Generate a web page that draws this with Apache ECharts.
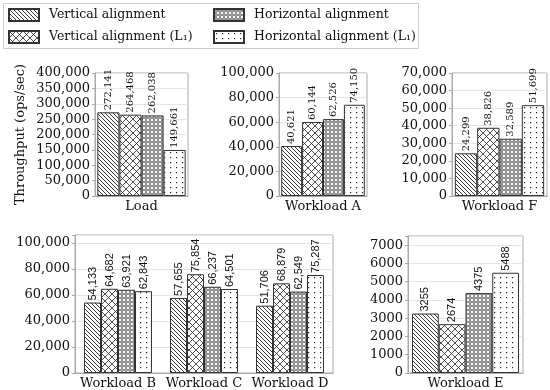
<!DOCTYPE html>
<html><head><meta charset="utf-8">
<script src="https://cdn.jsdelivr.net/npm/echarts@6/dist/echarts.min.js"></script>
<style>html,body{margin:0;padding:0;background:#fff}#c{width:550px;height:390px}</style>
</head><body><div id="c"></div>
<script>
// ---- data ----
const seriesNames = ['Vertical alignment', 'Vertical alignment (L₁)', 'Horizontal alignment', 'Horizontal alignment (L₁)'];
const loadCats = ['Load'];
const aCats = ['Workload A'];
const fCats = ['Workload F'];
const bcdCats = ['Workload B', 'Workload C', 'Workload D'];
const eCats = ['Workload E'];

const loadValues = [[272141], [264468], [262038], [149661]];
const aValues = [[40621], [60144], [62526], [74150]];
const fValues = [[24299], [38826], [32589], [51699]];
const bcdValues = [[54133, 57655, 51706], [64682, 75854, 68879], [63921, 66237, 62549], [62843, 64501, 75287]];
const eValues = [[3255], [2674], [4375], [5488]];

const yTitle = 'Throughput (ops/sec)';

// ---- patterns ----
function pat(w, h, draw) {
  const c = document.createElement('canvas');
  c.width = w; c.height = h;
  const g = c.getContext('2d');
  g.fillStyle = '#fff'; g.fillRect(0, 0, w, h);
  g.strokeStyle = '#222'; g.fillStyle = '#222';
  draw(g, w, h);
  return { image: c, repeat: 'repeat' };
}
const patterns = [
  pat(4, 4, (g, w, h) => {
    g.lineWidth = 0.9; g.beginPath();
    for (let k = -1; k <= 1; k++) { g.moveTo(k * w - 1, -1); g.lineTo(k * w + w + 1, h + 1); }
    g.stroke();
  }),
  pat(7, 7, (g, w, h) => {
    g.lineWidth = 0.8; g.beginPath();
    for (let k = -1; k <= 1; k++) {
      g.moveTo(k * w - 1, -1); g.lineTo(k * w + w + 1, h + 1);
      g.moveTo(k * w + w + 1, -1); g.lineTo(k * w - 1, h + 1);
    }
    g.stroke();
  }),
  pat(4, 4, (g) => {
    g.lineWidth = 0.75; g.beginPath(); g.arc(2, 2, 1.35, 0, Math.PI * 2); g.stroke();
  }),
  pat(6, 5, (g) => { g.fillRect(2, 2, 1.2, 1.2); })
];

const FONT = 'DejaVu Serif';
const fmtComma = v => v.toLocaleString('en-US');
const fmtPlain = v => String(v);

const panels = [
  { cats: loadCats, vals: loadValues, left: 95, top: 73, width: 93, height: 123, max: 400000, interval: 50000, gap: '5%', fmt: fmtComma, title: true, labelFont: FONT, labelSize: 10 },
  { cats: aCats, vals: aValues, left: 279, top: 73, width: 88, height: 123, max: 100000, interval: 20000, gap: '5%', fmt: fmtComma, labelFont: FONT, labelSize: 10 },
  { cats: fCats, vals: fValues, left: 452, top: 73, width: 95, height: 123, max: 70000, interval: 10000, gap: '6%', fmt: fmtComma, labelFont: FONT, labelSize: 10 },
  { cats: bcdCats, vals: bcdValues, left: 75, top: 235, width: 258, height: 139, max: 106000, interval: 20000, gap: '21%', fmt: fmtComma, labelFont: 'Liberation Sans', labelSize: 11 },
  { cats: eCats, vals: eValues, left: 408, top: 236, width: 115, height: 137, max: 7500, interval: 1000, gap: '7%', fmt: fmtPlain, labelFont: 'Liberation Sans', labelSize: 11 }
];

const grid = [], xAxis = [], yAxis = [], series = [];
panels.forEach((p, i) => {
  grid.push({ left: p.left, top: p.top, width: p.width, height: p.height, show: true, borderColor: '#aaa', borderWidth: 1, containLabel: false });
  xAxis.push({
    type: 'category', gridIndex: i, data: p.cats,
    axisLine: { lineStyle: { color: '#aaa' } }, axisTick: { show: false },
    axisLabel: { fontFamily: FONT, fontSize: 13, color: '#111', margin: 4, interval: 0 }
  });
  yAxis.push({
    type: 'value', gridIndex: i, min: 0, max: p.max, interval: p.interval,
    name: p.title ? yTitle : '', nameLocation: 'middle', nameGap: 68,
    nameTextStyle: { fontFamily: FONT, fontSize: 13, color: '#111' },
    axisLine: { show: true, lineStyle: { color: '#aaa' } },
    axisTick: { show: true, length: 3, lineStyle: { color: '#aaa' } },
    splitLine: { lineStyle: { color: '#e6e6e6' } },
    axisLabel: { fontFamily: FONT, fontSize: 13, color: '#111', margin: 5,
      formatter: v => (v % p.interval === 0 ? p.fmt(v) : '') }
  });
  p.vals.forEach((vals, s) => {
    series.push({
      type: 'bar', name: seriesNames[s], xAxisIndex: i, yAxisIndex: i, data: vals,
      barGap: '0%', barCategoryGap: p.gap,
      itemStyle: { color: patterns[s], borderColor: '#333', borderWidth: 1 },
      label: {
        show: true, position: 'top', rotate: 90, align: 'left', verticalAlign: 'middle', distance: 2,
        fontFamily: p.labelFont, fontSize: p.labelSize, color: '#111',
        formatter: d => p.fmt(d.value)
      },
      animation: false
    });
  });
});

const legendCommon = {
  orient: 'vertical', icon: 'rect', itemWidth: 30, itemHeight: 12, itemGap: 8, top: 8, padding: 0,
  textStyle: { fontFamily: FONT, fontSize: 12.5, color: '#111', padding: [0, 0, 0, 5] }, selectedMode: false
};

const chart = echarts.init(document.getElementById('c'), null, { renderer: 'canvas' });
chart.setOption({
  animation: false,
  backgroundColor: '#fff',
  graphic: [{ type: 'rect', shape: { x: 3.5, y: 3.5, width: 415, height: 45 }, style: { fill: 'none', stroke: '#ccc', lineWidth: 1 } }],
  legend: [
    Object.assign({}, legendCommon, { left: 8, data: [seriesNames[0], seriesNames[1]] }),
    Object.assign({}, legendCommon, { left: 213, data: [seriesNames[2], seriesNames[3]] })
  ],
  grid, xAxis, yAxis, series
});
</script></body></html>
